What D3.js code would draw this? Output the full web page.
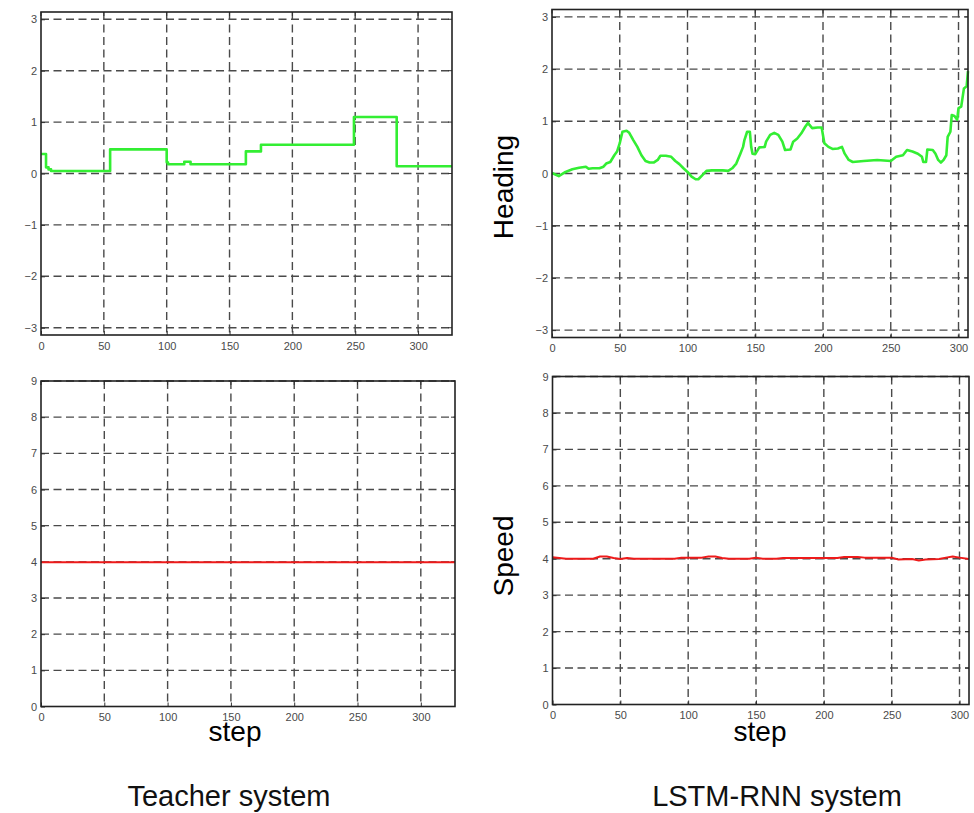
<!DOCTYPE html>
<html>
<head>
<meta charset="utf-8">
<script src="https://cdn.jsdelivr.net/npm/d3@7"></script>
<style>
  body { margin: 0; background: #fff; }
  svg { display: block; font-family: "Liberation Sans", Arial, Helvetica, sans-serif; }
  .tick-label { font-size: 11px; fill: #4a4a4a; }
  .big-label { font-size: 28px; fill: #000; }
  .title { font-size: 29px; fill: #111; }
</style>
</head>
<body>
<div id="chart"></div>
<script>
// teacher heading: step function (start step, value)
var teacherHeadingSteps = [0, 4, 6, 8, 55, 100, 101, 114, 119, 163, 175, 249, 283, 327];
var teacherHeadingValues = [0.38, 0.12, 0.08, 0.05, 0.47, 0.22, 0.18, 0.23, 0.18, 0.43, 0.56, 1.1, 0.14, 0.14];

// lstm heading
var lstmHeadingSteps = [0, 5, 10, 15, 20, 25, 27, 30, 35, 38, 40, 43, 46, 48, 50, 52, 55, 57, 60, 63, 66, 69, 72, 75, 78, 80, 84, 88, 91, 94, 97, 100,
  103, 106, 108, 111, 114, 118, 122, 126, 130, 133, 136, 139, 141, 142, 144, 146, 147, 148, 150, 153, 157, 158, 161, 164, 167, 170, 172, 176,
  178, 181, 184, 187, 189, 190, 192, 196, 199, 201, 204, 207, 211, 214, 216, 219, 222, 230, 240, 250, 254, 259, 262, 266, 270, 273, 274, 276,
  277, 281, 283, 285, 287, 289, 291, 292, 294, 295, 297, 299, 300, 302, 304, 306, 307];
var lstmHeadingValues = [0.01, -0.05, 0.03, 0.08, 0.11, 0.13, 0.09, 0.1, 0.1, 0.13, 0.19, 0.22, 0.35, 0.42, 0.58, 0.8, 0.82, 0.78, 0.64, 0.51, 0.35, 0.24, 0.21, 0.21, 0.26, 0.34, 0.34, 0.32, 0.24, 0.18, 0.1, 0.03,
  -0.06, -0.11, -0.11, -0.03, 0.05, 0.06, 0.06, 0.06, 0.05, 0.1, 0.19, 0.38, 0.51, 0.64, 0.8, 0.8, 0.51, 0.38, 0.37, 0.5, 0.51, 0.61, 0.74, 0.78, 0.74, 0.61, 0.45, 0.46,
  0.61, 0.67, 0.77, 0.9, 0.97, 0.93, 0.87, 0.88, 0.88, 0.58, 0.51, 0.47, 0.48, 0.51, 0.38, 0.26, 0.22, 0.24, 0.26, 0.24, 0.32, 0.35, 0.45, 0.42, 0.38, 0.32, 0.22, 0.22,
  0.46, 0.45, 0.38, 0.26, 0.21, 0.26, 0.35, 0.7, 0.8, 1.12, 1.1, 1.03, 1.25, 1.28, 1.63, 1.67, 1.96];

// teacher speed is flat
var teacherSpeedSteps = [0, 327];
var teacherSpeedValues = [3.99, 3.99];

// lstm speed
var lstmSpeedSteps = [0, 10, 30, 35, 40, 45, 50, 55, 60, 90, 95, 100, 110, 115, 120, 125, 130, 145, 150, 155, 165, 170, 210, 215, 225, 230, 250, 255, 265, 270, 275, 285, 290, 295, 300, 307];
var lstmSpeedValues = [4.04, 4.0, 4.0, 4.06, 4.06, 4.02, 3.99, 4.02, 4.0, 4.0, 4.03, 4.03, 4.03, 4.06, 4.06, 4.02, 4.0, 4.0, 4.03, 4.0, 4.0, 4.02, 4.02, 4.05, 4.05, 4.03, 4.03, 3.98, 3.99, 3.95, 3.98, 3.99, 4.03, 4.06, 4.03, 3.99];

// tick labels
var xTicks = [0, 50, 100, 150, 200, 250, 300];
var headingTicks = [-3, -2, -1, 0, 1, 2, 3];
var speedTicks = [0, 1, 2, 3, 4, 5, 6, 7, 8, 9];

var svg = d3.select('#chart')
  .append('svg')
    .attr('width', 974)
    .attr('height', 813);

// draw one matlab style panel
function drawPanel(opts) {
  var x = d3.scaleLinear().domain(opts.xDomain).range([opts.left, opts.right]);
  var y = d3.scaleLinear().domain(opts.yDomain).range([opts.bottom, opts.top]);
  var g = svg.append('g');

  // dashed grid
  g.selectAll('.vgrid')
    .data(xTicks.filter(function(t) { return t > opts.xDomain[0]; }))
    .enter().append('line')
      .attr('x1', function(d) { return x(d); })
      .attr('x2', function(d) { return x(d); })
      .attr('y1', opts.top)
      .attr('y2', opts.bottom)
      .attr('stroke', '#4a4a4a')
      .attr('stroke-width', 1.4)
      .attr('stroke-dasharray', '8,4.5');
  g.selectAll('.hgrid')
    .data(opts.yTicks.filter(function(t) { return t > opts.yDomain[0]; }))
    .enter().append('line')
      .attr('x1', opts.left)
      .attr('x2', opts.right)
      .attr('y1', function(d) { return y(d); })
      .attr('y2', function(d) { return y(d); })
      .attr('stroke', '#4a4a4a')
      .attr('stroke-width', 1.4)
      .attr('stroke-dasharray', '8,4.5');

  // axes with inward ticks and labels
  var fmt = d3.format('d');
  var xAxis = d3.axisBottom(x).tickValues(xTicks).tickFormat(fmt).tickSizeInner(-4).tickSizeOuter(0).tickPadding(7);
  var yAxis = d3.axisLeft(y).tickValues(opts.yTicks).tickFormat(fmt).tickSizeInner(-4).tickSizeOuter(0).tickPadding(6);
  var ax = g.append('g').attr('transform', 'translate(0,' + opts.bottom + ')').call(xAxis);
  var ay = g.append('g').attr('transform', 'translate(' + opts.left + ',0)').call(yAxis);
  [ax, ay].forEach(function(a) {
    a.select('.domain').remove();
    a.selectAll('.tick line').attr('stroke', '#333');
    a.selectAll('.tick text').attr('class', 'tick-label').attr('font-size', null).attr('font-family', null).attr('fill', null);
  });
  ay.selectAll('.tick text').attr('dx', '2px');
  // right and top inward ticks
  g.selectAll('.rtick').data(opts.yTicks).enter().append('line')
    .attr('x1', opts.right).attr('x2', opts.right - 4)
    .attr('y1', function(d) { return y(d); }).attr('y2', function(d) { return y(d); })
    .attr('stroke', '#333');
  g.selectAll('.ttick').data(xTicks).enter().append('line')
    .attr('x1', function(d) { return x(d); }).attr('x2', function(d) { return x(d); })
    .attr('y1', opts.top).attr('y2', opts.top + 4)
    .attr('stroke', '#333');

  // series line
  var line = d3.line()
    .x(function(d) { return x(d[0]); })
    .y(function(d) { return y(d[1]); })
    .curve(opts.curve || d3.curveLinear);
  var pts = opts.xs.map(function(v, i) { return [v, opts.ys[i]]; });
  g.append('path')
    .datum(pts)
    .attr('fill', 'none')
    .attr('stroke', opts.color)
    .attr('stroke-width', opts.width)
    .attr('stroke-linejoin', 'round')
    .attr('d', line);

  // frame
  g.append('rect')
    .attr('x', opts.left)
    .attr('y', opts.top)
    .attr('width', opts.right - opts.left)
    .attr('height', opts.bottom - opts.top)
    .attr('fill', 'none')
    .attr('stroke', '#222')
    .attr('stroke-width', 1.6);
}

var green = '#33ee33';
var red = '#ee1a1a';

drawPanel({ left: 41, right: 452, top: 12, bottom: 335, xDomain: [0, 327], yDomain: [-Math.PI, Math.PI],
  yTicks: headingTicks, xs: teacherHeadingSteps, ys: teacherHeadingValues, color: green, width: 2.6, curve: d3.curveStepAfter });
drawPanel({ left: 552, right: 968, top: 9.5, bottom: 337.5, xDomain: [0, 307], yDomain: [-Math.PI, Math.PI],
  yTicks: headingTicks, xs: lstmHeadingSteps, ys: lstmHeadingValues, color: green, width: 2.6 });
drawPanel({ left: 41, right: 455, top: 381, bottom: 706.5, xDomain: [0, 327], yDomain: [0, 9],
  yTicks: speedTicks, xs: teacherSpeedSteps, ys: teacherSpeedValues, color: red, width: 2 });
drawPanel({ left: 552.5, right: 969, top: 376.5, bottom: 704.5, xDomain: [0, 307], yDomain: [0, 9],
  yTicks: speedTicks, xs: lstmSpeedSteps, ys: lstmSpeedValues, color: red, width: 2 });

// axis titles
svg.append('text').attr('class', 'big-label')
  .attr('transform', 'translate(513,187) rotate(-90)')
  .attr('text-anchor', 'middle')
  .text('Heading');
svg.append('text').attr('class', 'big-label')
  .attr('transform', 'translate(513,556) rotate(-90)')
  .attr('text-anchor', 'middle')
  .text('Speed');
svg.append('text').attr('class', 'big-label')
  .attr('x', 235).attr('y', 741)
  .attr('text-anchor', 'middle')
  .text('step');
svg.append('text').attr('class', 'big-label')
  .attr('x', 760).attr('y', 741)
  .attr('text-anchor', 'middle')
  .text('step');

// system titles
svg.append('text').attr('class', 'title')
  .attr('x', 229).attr('y', 806)
  .attr('text-anchor', 'middle')
  .text('Teacher system');
svg.append('text').attr('class', 'title')
  .attr('x', 777).attr('y', 806)
  .attr('text-anchor', 'middle')
  .text('LSTM-RNN system');
</script>
</body>
</html>
